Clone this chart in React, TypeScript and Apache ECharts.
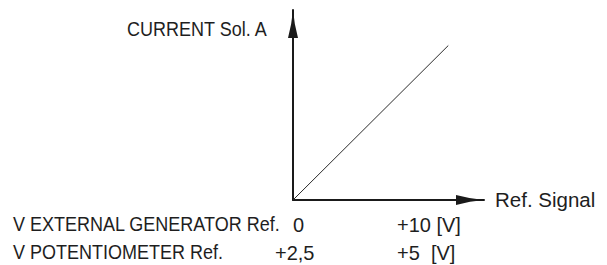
import React, { useEffect, useRef } from "react";
import * as echarts from "echarts";

// Data
const refSignal: number[] = [0, 10];
const currentSolA: number[] = [0, 10];
const yAxisTitle = "CURRENT Sol. A";
const xAxisTitle = "Ref. Signal";
const rowLabels: string[] = ["V EXTERNAL GENERATOR Ref.", "V POTENTIOMETER Ref."];
const rowMinLabels: string[] = ["0", "+2,5"];
const rowMaxLabels: string[] = ["+10 [V]", "+5  [V]"];

const FAMILY = 'Arial, "Liberation Sans", Helvetica, sans-serif';
const TEXT_COLOR = "#1e1e1e";

export default function App() {
  const ref = useRef<HTMLDivElement>(null);
  useEffect(() => {
    if (!ref.current) return;
    const chart = echarts.init(ref.current, null, { renderer: "svg" });
    const arrowPath = "path://M5,0 Q6.2,14 10,28 L0,28 Q3.8,14 5,0 Z";
    const txt = (text: string, x: number, y: number, size: number, sy: number) => ({
      type: "text",
      x,
      y,
      scaleY: sy,
      style: {
        text,
        font: `${size}px ${FAMILY}`,
        fill: TEXT_COLOR,
        textAlign: "left",
        textVerticalAlign: "middle",
      },
    });
    const rowYs = [224.5, 252];
    const minXs = [293, 275];
    const graphics: any[] = [
      txt(yAxisTitle, 127, 29.5, 18, 1.14),
      txt(xAxisTitle, 495, 199, 20.5, 1.0),
    ];
    rowLabels.forEach((l, i) => {
      graphics.push(txt(l, 13, rowYs[i], 18, 1.14));
      graphics.push(txt(rowMinLabels[i], minXs[i], rowYs[i], 20, 1.05));
      graphics.push(txt(rowMaxLabels[i], 397, rowYs[i], 20, 1.05));
    });
    chart.setOption({
      animation: false,
      grid: { left: 293, top: 10, width: 191, height: 190, containLabel: false },
      xAxis: {
        type: "value",
        min: 0,
        max: 12.3,
        axisLine: {
          show: true,
          onZero: false,
          symbol: ["none", arrowPath],
          symbolSize: [10, 28],
          symbolOffset: [0, -14],
          lineStyle: { color: "#1a1a1a", width: 2 },
        },
        axisTick: { show: false },
        axisLabel: { show: false },
        splitLine: { show: false },
      },
      yAxis: {
        type: "value",
        min: 0,
        max: 12.3,
        axisLine: {
          show: true,
          onZero: false,
          symbol: ["none", arrowPath],
          symbolSize: [11, 28],
          symbolOffset: [0, -14],
          lineStyle: { color: "#1a1a1a", width: 2 },
        },
        axisTick: { show: false },
        axisLabel: { show: false },
        splitLine: { show: false },
      },
      series: [
        {
          type: "line",
          data: refSignal.map((x, i) => [x, currentSolA[i]]),
          showSymbol: false,
          symbol: "none",
          lineStyle: { color: "#2a2a2a", width: 1 },
        },
      ],
      graphic: graphics,
    });
    return () => chart.dispose();
  }, []);
  return (
    <div
      ref={ref}
      style={{ position: "fixed", left: 0, top: 0, width: 607, height: 265, background: "#fff" }}
    />
  );
}
